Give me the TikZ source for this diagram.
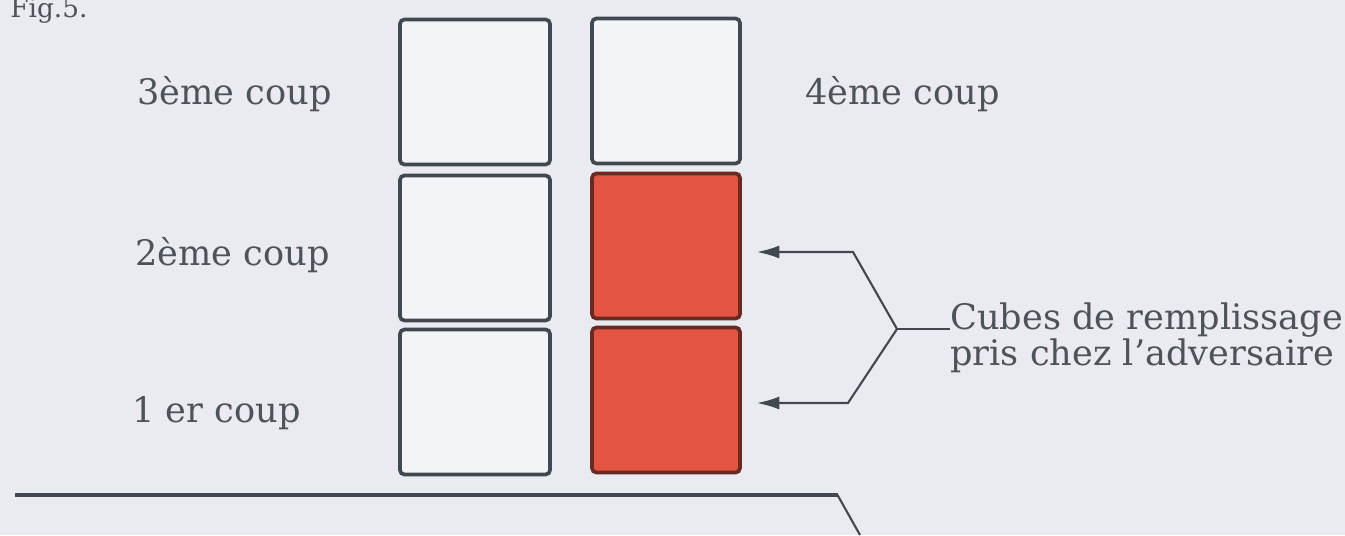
\documentclass[tikz,border=0pt]{standalone}
\usepackage{fontspec}
\setmainfont{DejaVu Serif}
\usepackage{xcolor}
\definecolor{paper}{RGB}{233, 235, 240}
\definecolor{ink}{RGB}{66, 72, 80}
\definecolor{labelgrey}{RGB}{78, 83, 90}
\definecolor{cubered}{RGB}{228, 84, 66}
\definecolor{cubedeep}{RGB}{105, 42, 36}
\usepackage{tikz}
\usetikzlibrary{arrows.meta, positioning, calc}

\begin{document}
\begin{tikzpicture}[
  cube/.style={rectangle, rounded corners=2.5pt, draw=ink, line width=2.1pt, fill=paper!55!white, minimum width=3.0cm, minimum height=2.9cm, inner sep=0pt},
  taken/.style={cube, draw=cubedeep, fill=cubered},
  coup/.style={anchor=base west, text=labelgrey, font=\fontsize{20}{24}\selectfont, inner sep=0pt},
  pointer/.style={ink, line width=1.2pt, -{Latex[length=0.45cm, width=0.26cm]}}
]
  % page and margins
  \useasboundingbox (0, 0) rectangle (26.9, 10.7);
  \fill[paper] (0, 0) rectangle (26.9, 10.7);

  % figure number
  \node[coup, font=\fontsize{15}{18}\selectfont] (fig) at (0.2, 10.34) {Fig.5.};

  % left stack - own cubes
  \node[cube] (L3) at (9.5, 8.86) {};
  \node[cube] (L2) at (9.5, 5.74) {};
  \node[cube] (L1) at (9.5, 2.66) {};

  % right stack - two cubes taken from the other side
  \node[cube, minimum width=2.96cm] (R3) at (13.32, 8.88) {};
  \node[taken, minimum width=2.96cm] (R2) at (13.32, 5.78) {};
  \node[taken, minimum width=2.96cm] (R1) at (13.32, 2.70) {};

  % move labels
  \node[coup] (c3) at (2.74, 8.6) {3ème coup};
  \node[coup] (c2) at (2.70, 5.4) {2ème coup};
  \node[coup] (c1) at (2.64, 2.26) {1 er coup};
  \node[coup] (c4) at (16.1, 8.6) {4ème coup};

  % legend and its bracket
  \node[anchor=west, align=left, text=labelgrey, font=\fontsize{20}{19}\selectfont, inner sep=0pt] (fill) at (19.0, 3.94) {Cubes de remplissage\\pris chez l'adversaire};
  \coordinate (jn) at (17.94, 4.12);
  \coordinate (up) at (17.06, 5.66);
  \coordinate (dn) at (16.96, 2.64);
  \draw[ink, line width=1.2pt] (jn) -- (jn -| fill.west);
  \draw[pointer, shorten >=0.3cm] (jn) -- (up) -- (R2.east |- up);
  \draw[pointer, shorten >=0.3cm] (jn) -- (dn) -- (R1.east |- dn);

  % table edge
  \coordinate (e0) at (0.3, 0.8);
  \coordinate (e1) at (16.75, 0.8);
  \coordinate (e2) at (17.2, 0);
  \draw[ink, line width=2.8pt] (e0) -- (e1);
  \draw[ink, line width=1.2pt] (e1) -- (e2);

\end{tikzpicture}
\end{document}
